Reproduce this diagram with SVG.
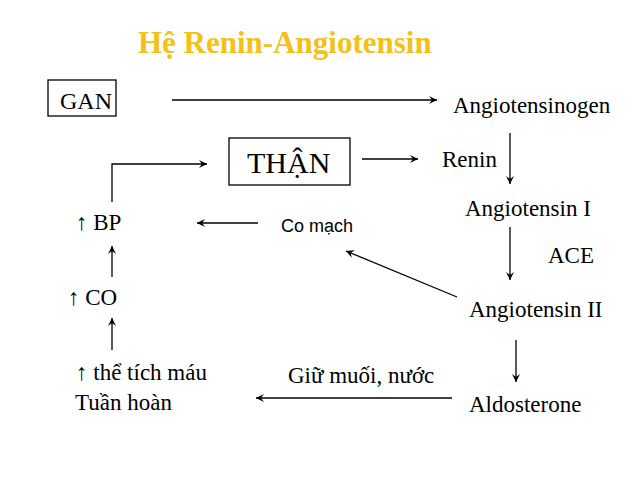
<svg xmlns="http://www.w3.org/2000/svg" width="638" height="479" viewBox="0 0 638 479">
<defs>
<style>
.t{font-family:Tinos,'Liberation Serif',FreeSerif,'Noto Serif','DejaVu Serif',Times,serif;font-size:23px;fill:#000}
.s{font-family:'Liberation Sans',Arial,sans-serif;font-size:18px;fill:#000}
.title{font-family:Tinos,'Liberation Serif',FreeSerif,'Noto Serif','DejaVu Serif',Times,serif;font-size:31px;font-weight:bold;fill:#F4C01A}
.box{fill:#fff;stroke:#000;stroke-width:1.3}
.c{fill:none;stroke:#000;stroke-width:1.3;marker-end:url(#ah)}
</style>
<marker id="ah" markerUnits="userSpaceOnUse" markerWidth="10" markerHeight="10" refX="8" refY="4" orient="auto">
<path d="M0,0 L8,4 L0,8 L3,4 z" fill="#000"/>
</marker>
</defs>
<rect width="638" height="479" fill="#fff"/>
<text class="title" x="138" y="53">Hệ Renin-Angiotensin</text>
<g id="connectors">
<line class="c" x1="172" y1="100" x2="437" y2="100"/>
<line class="c" x1="362" y1="159" x2="418" y2="159"/>
<line class="c" x1="510" y1="133" x2="510" y2="184"/>
<line class="c" x1="510" y1="227" x2="510" y2="280"/>
<line class="c" x1="516" y1="340" x2="516" y2="382"/>
<line class="c" x1="452" y1="398" x2="256" y2="398"/>
<line class="c" x1="457" y1="297" x2="346" y2="251"/>
<line class="c" x1="258" y1="223" x2="197" y2="223"/>
<line class="c" x1="112" y1="350" x2="112" y2="318"/>
<line class="c" x1="112" y1="277" x2="112" y2="246"/>
<polyline class="c" points="112,202 112,164 207,164"/>
</g>
<g id="gan"><rect class="box" x="48" y="80" width="68" height="36"/><text class="t" x="60" y="109" style="font-size:24px">GAN</text></g>
<g id="angiotensinogen"><text class="t" x="453" y="113">Angiotensinogen</text></g>
<g id="than"><rect class="box" x="229" y="138" width="121" height="47"/><text class="t" x="247" y="173" style="font-size:30px">THẬN</text></g>
<g id="renin"><text class="t" x="442" y="167">Renin</text></g>
<g id="angiotensin1"><text class="t" x="465" y="216">Angiotensin I</text></g>
<g id="ace"><text class="t" x="548" y="263">ACE</text></g>
<g id="angiotensin2"><text class="t" x="469" y="317">Angiotensin II</text></g>
<g id="aldosterone"><text class="t" x="469" y="412">Aldosterone</text></g>
<g id="giumuoi"><text class="t" x="288" y="383">Giữ muối, nước</text></g>
<g id="comach"><text class="s" x="281" y="232">Co mạch</text></g>
<g id="bp"><text class="t" x="76" y="230">↑ BP</text></g>
<g id="co"><text class="t" x="68" y="305">↑ CO</text></g>
<g id="thetich"><text class="t" x="76" y="380">↑ thể tích máu</text><text class="t" x="75" y="410">Tuần hoàn</text></g>
</svg>
